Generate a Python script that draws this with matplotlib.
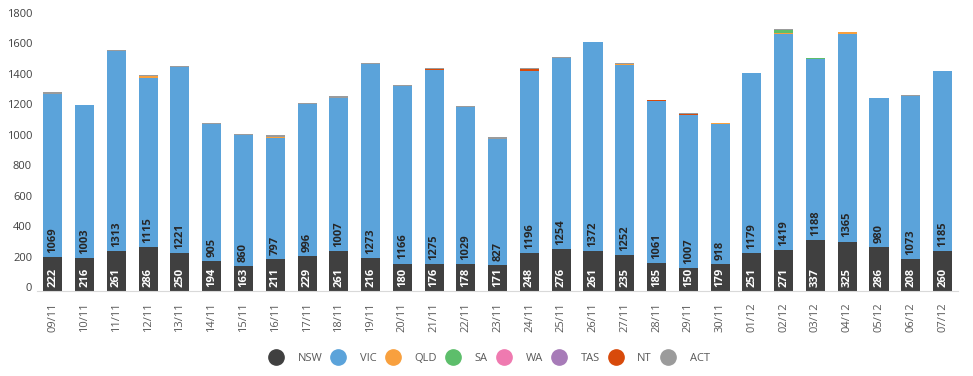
import numpy as np
import matplotlib.pyplot as plt
import matplotlib.transforms as mtransforms
from matplotlib.lines import Line2D

plt.rcParams['font.family'] = ['Open Sans', 'DejaVu Sans']

dates = ["09/11", "10/11", "11/11", "12/11", "13/11", "14/11", "15/11", "16/11", "17/11", "18/11",
         "19/11", "20/11", "21/11", "22/11", "23/11", "24/11", "25/11", "26/11", "27/11", "28/11",
         "29/11", "30/11", "01/12", "02/12", "03/12", "04/12", "05/12", "06/12", "07/12"]
nsw = [222, 216, 261, 286, 250, 194, 163, 211, 229, 261, 216, 180, 176, 178, 171, 248, 276, 261,
       235, 185, 150, 179, 251, 271, 337, 325, 286, 208, 260]
vic = [1069, 1003, 1313, 1115, 1221, 905, 860, 797, 996, 1007, 1273, 1166, 1275, 1029, 827, 1196,
       1254, 1372, 1252, 1061, 1007, 918, 1179, 1419, 1188, 1365, 980, 1073, 1185]
qld = [2, 1, 2, 10, 1, 1, 1, 2, 1, 2, 1, 1, 2, 1, 2, 2, 1, 1, 2, 1, 1, 6, 1, 2, 1, 8, 1, 1, 1]
sa  = [0, 0, 0, 0, 0, 0, 0, 0, 0, 0, 0, 0, 0, 0, 0, 0, 0, 0, 0, 0, 0, 0, 0, 25, 5, 0, 0, 0, 0]
wa  = [0, 0, 0, 0, 0, 0, 0, 0, 0, 0, 0, 0, 0, 0, 0, 0, 0, 0, 0, 0, 0, 0, 0, 0, 0, 0, 0, 0, 0]
tas = [0, 0, 0, 0, 0, 0, 0, 0, 0, 0, 0, 0, 0, 0, 0, 0, 0, 0, 0, 0, 0, 0, 0, 0, 0, 0, 0, 0, 0]
nt  = [0, 0, 0, 0, 0, 0, 0, 0, 5, 0, 0, 0, 6, 0, 0, 10, 0, 0, 0, 6, 6, 0, 0, 0, 0, 0, 0, 0, 0]
act = [15, 4, 4, 6, 5, 5, 4, 12, 3, 10, 6, 5, 8, 4, 12, 8, 5, 2, 6, 3, 3, 2, 2, 3, 2, 3, 2, 3, 2]

states = ["NSW", "VIC", "QLD", "SA", "WA", "TAS", "NT", "ACT"]
series = [nsw, vic, qld, sa, wa, tas, nt, act]
colors = ["#404040", "#5BA3DA", "#F8A03E", "#5DBE6B", "#EF7AB0", "#A77BB8", "#D84A0B", "#9B9B9B"]

fig = plt.figure(figsize=(9.73, 3.76), dpi=100)
ax = fig.add_axes([0.038, 0.226, 0.947, 0.729])

x = np.arange(len(dates))
bottom = np.zeros(len(dates))
for vals, col in zip(series, colors):
    ax.bar(x, vals, 0.6, bottom=bottom, color=col, linewidth=0)
    bottom += np.array(vals)

# value labels for NSW and VIC, inside base
for i in range(len(dates)):
    ax.annotate(str(nsw[i]), (x[i], 0), xytext=(0, 3), textcoords='offset points',
                rotation=90, ha='center', va='bottom', color='white',
                fontsize=8, fontweight='bold')
    ax.annotate(str(vic[i]), (x[i], nsw[i]), xytext=(0, 3), textcoords='offset points',
                rotation=90, ha='center', va='bottom', color='#262626',
                fontsize=8, fontweight='bold')

ax.set_xlim(-0.5, len(dates) - 0.5)
ax.set_ylim(0, 1800)
ax.set_yticks(range(0, 1801, 200))
ax.set_xticks(x)
ax.set_xticklabels(dates, rotation=90)
ax.tick_params(axis='both', length=0, labelsize=8, colors='#595959')
ax.tick_params(axis='y', colors='#404040')
ax.tick_params(axis='x', pad=8)
# y tick labels sit a few pixels above their values in the original
shift = mtransforms.ScaledTranslation(0, 4 / 100, fig.dpi_scale_trans)
for lab in ax.get_yticklabels():
    lab.set_transform(lab.get_transform() + shift)
for s in ['top', 'right', 'left']:
    ax.spines[s].set_visible(False)
ax.spines['bottom'].set_color('#D9D9D9')

handles = [Line2D([], [], marker='o', linestyle='', markersize=11, color=c) for c in colors]
fig.legend(handles, states, loc='center', bbox_to_anchor=(0.503, 0.047), ncol=8, frameon=False,
           fontsize=8, labelcolor='#595959', handlelength=1.2, handletextpad=1.35,
           columnspacing=0.85)

fig.savefig("out.png", dpi=100)
